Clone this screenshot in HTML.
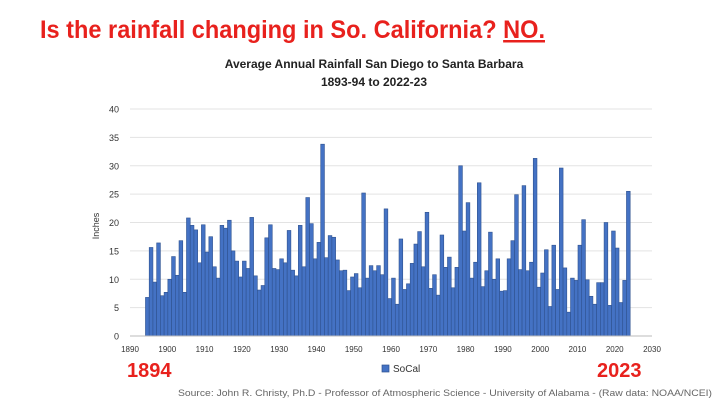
<!DOCTYPE html>
<html><head><meta charset="utf-8"><style>
body{margin:0;width:720px;height:404px;background:#fff;overflow:hidden;font-family:"Liberation Sans",sans-serif;}
</style></head><body>
<svg width="720" height="404" xmlns="http://www.w3.org/2000/svg">
<text x="40" y="38" font-size="25" font-weight="bold" fill="#e8211d" textLength="505" lengthAdjust="spacingAndGlyphs">Is the rainfall changing in So. California?  <tspan text-decoration="underline">NO.</tspan></text>
<text x="374" y="68" font-size="12" font-weight="bold" text-anchor="middle" fill="#222">Average Annual Rainfall San Diego to Santa Barbara</text>
<text x="374" y="86" font-size="12" font-weight="bold" text-anchor="middle" fill="#222">1893-94 to 2022-23</text>
<g id="grid"></g>
<g id="bars"></g>
<g id="axes"></g>
<text transform="translate(99,226) rotate(-90)" font-size="9" text-anchor="middle" fill="#333">Inches</text>
<rect x="382" y="365" width="7" height="7" fill="#4472c4" stroke="#2f528f" stroke-width="0.7"/>
<text x="393" y="372" font-size="10" fill="#333">SoCal</text>
<text x="127" y="377" font-size="20" font-weight="bold" fill="#e8211d">1894</text>
<text x="597" y="377" font-size="20" font-weight="bold" fill="#e8211d">2023</text>
<text x="178" y="396" font-size="9.5" fill="#666" textLength="534" lengthAdjust="spacingAndGlyphs">Source: John R. Christy, Ph.D - Professor of Atmospheric Science - University of Alabama - (Raw data: NOAA/NCEI)</text>
</svg>
<script>
const startYear = 1894;
const rainfall = [6.8,15.6,9.5,16.4,7.1,7.7,10,14,10.7,16.8,
7.7,20.8,19.5,18.7,12.9,19.6,14.8,17.5,12.2,10.2,
19.5,19,20.4,15,13.2,10.4,13.2,11.9,20.9,10.6,
8.1,8.9,17.3,19.6,11.9,11.7,13.6,12.9,18.6,11.6,
10.6,19.5,
12.2,24.4,19.8,13.6,16.5,33.8,13.8,17.7,17.4,13.4,
11.5,11.6,8,10.4,11,8.5,25.2,10.2,12.4,11.5,
12.4,10.8,22.4,6.6,10.2,5.6,17.1,8.2,9.2,12.8,
16.2,18.4,12.2,21.8,8.4,10.8,7.2,17.8,12.1,13.9,
8.5,12.1,
30,18.5,23.5,10.2,13,27,8.7,11.5,18.3,10,
13.6,7.9,8,13.6,16.8,24.9,11.7,26.5,11.5,13,
31.3,8.6,11.1,15.2,5.2,16,8.2,29.6,12,4.2,
10.2,9.8,16,20.5,9.9,7,5.6,9.4,9.4,20,
5.4,18.5,15.5,5.9,9.8,25.5];
const yTicks = [0,5,10,15,20,25,30,35,40];
const xTicks = [1890,1900,1910,1920,1930,1940,1950,1960,1970,1980,1990,2000,2010,2020,2030];
const NS="http://www.w3.org/2000/svg";
const X0=130,X1=652,Y0=336,Y1=109;
function xs(yr){return X0+(yr-1890)*(X1-X0)/140;}
function ys(v){return Y0-(v/40)*(Y0-Y1);}
function mk(t,a,p){const e=document.createElementNS(NS,t);for(const k in a)e.setAttribute(k,a[k]);p.appendChild(e);return e;}
const grid=document.getElementById('grid'),bars=document.getElementById('bars'),axes=document.getElementById('axes');
yTicks.forEach(v=>{
 if(v>0){const l=mk('line',{x1:X0,x2:X1,y1:ys(v),y2:ys(v),stroke:'#e3e3e3','stroke-width':1},grid);
 
 }
 const t=mk('text',{x:119,y:ys(v)+3.5,'font-size':9,'text-anchor':'end',fill:'#333'},axes);
 t.textContent=v;
 
 
});
const bw=(X1-X0)/140;
rainfall.forEach((v,i)=>{
 const yr=startYear+i;
 const r=mk('rect',{x:xs(yr+0.15),y:ys(v),width:bw,height:Y0-ys(v),fill:'#4472c4',stroke:'#2f528f','stroke-width':0.6},bars);
 
 
});
const ax=mk('line',{x1:X0,x2:X1,y1:Y0,y2:Y0,stroke:'#bbb','stroke-width':1},axes);


xTicks.forEach(yr=>{
 const t=mk('text',{x:xs(yr),y:352,'font-size':8,'text-anchor':'middle',fill:'#333'},axes);
 t.textContent=yr;
 
 
});
</script>
</body></html>
